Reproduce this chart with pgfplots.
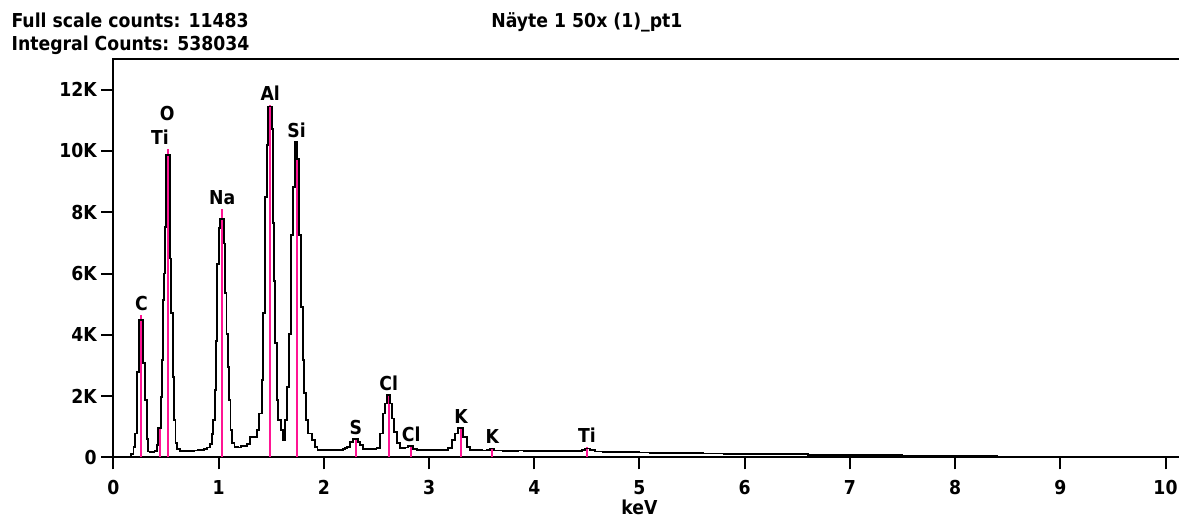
\documentclass[border=0pt]{standalone}
\usepackage{fontspec}
\IfFontExistsTF{DejaVu Sans Condensed}{\setmainfont{DejaVu Sans Condensed}[BoldFont={DejaVu Sans Condensed Bold}]}{\setmainfont{DejaVu Sans}}
\usepackage{pgfplots}
\pgfplotsset{compat=1.18}
\definecolor{pk}{RGB}{255,20,147}
\newcommand\lf{\fontsize{14.4pt}{16pt}\selectfont\bfseries}
\pgfplotstableread{
x y
0 0
0.15 20
0.17 120
0.19 330
0.204 780
0.22 2780
0.245 4470
0.283 3070
0.300 1870
0.316 600
0.331 190
0.35 170
0.37 180
0.39 200
0.41 400
0.426 950
0.449 1980
0.464 3170
0.474 5130
0.483 6000
0.490 7520
0.499 9860
0.537 6490
0.547 4700
0.563 2630
0.578 1220
0.590 460
0.605 260
0.63 210
0.66 200
0.70 215
0.73 205
0.77 225
0.80 230
0.83 250
0.86 270
0.89 320
0.917 450
0.935 750
0.949 1220
0.962 2200
0.975 3800
0.987 6300
1.000 7500
1.012 7780
1.050 6980
1.063 5360
1.075 4040
1.087 2960
1.100 1870
1.112 890
1.128 460
1.15 340
1.18 320
1.21 360
1.24 380
1.27 450
1.298 670
1.361 890
1.386 1430
1.409 2520
1.424 4700
1.440 8500
1.456 10190
1.472 11450
1.504 10730
1.513 7640
1.526 5770
1.538 3730
1.551 1870
1.567 1220
1.589 890
1.614 560
1.630 1220
1.652 2300
1.671 4040
1.687 7250
1.703 8830
1.725 10300
1.741 9750
1.766 7250
1.779 4910
1.798 3170
1.811 2090
1.830 1220
1.852 780
1.884 560
1.915 350
1.94 250
1.98 240
2.02 250
2.06 235
2.10 245
2.14 240
2.18 260
2.200 300
2.217 350
2.248 510
2.280 600
2.327 500
2.343 400
2.375 260
2.42 280
2.46 270
2.50 300
2.533 780
2.565 1430
2.581 1760
2.597 2030
2.628 1760
2.644 1270
2.666 840
2.692 460
2.723 300
2.770 320
2.802 380
2.850 260
2.882 240
2.95 235
3.00 240
3.05 230
3.10 240
3.15 235
3.183 300
3.215 560
3.246 780
3.278 950
3.319 670
3.357 350
3.389 240
3.45 230
3.50 225
3.55 235
3.58 290
3.62 225
3.70 220
3.78 210
3.85 225
3.90 205
3.95 215
4.00 205
4.05 220
4.10 200
4.15 210
4.20 205
4.25 215
4.30 210
4.35 200
4.40 215
4.45 250
4.48 290
4.53 240
4.58 190
4.65 180
4.72 175
4.80 170
4.90 165
5.00 160
5.10 150
5.20 140
5.30 135
5.45 130
5.60 125
5.80 115
6.00 110
6.30 100
6.60 90
6.90 80
7.20 70
7.50 60
7.80 50
8.10 40
8.40 25
8.80 15
9.40 10
10.2 10
}\spec
\pgfplotstableread{
x y
0.266 4640
0.445 950
0.522 10080
1.034 8090
1.490 11490
1.741 10300
2.305 600
2.616 2050
2.830 380
3.303 970
3.600 290
4.500 330
}\lines
\begin{document}
\begin{tikzpicture}
\begin{axis}[
  at={(0pt,0pt)}, anchor=south west, scale only axis,
  width=804.75pt, height=298.7pt,
  xmin=0, xmax=10.2, ymin=0, ymax=13000,
  axis line style={line width=1.5pt, black},
  every tick/.style={line width=1.5pt, black},
  tick align=outside,
  major tick length=9pt,
  xtick={0,1,...,10}, xticklabels={0,1,2,3,4,5,6,7,8,9,10},
  ytick={0,2000,4000,6000,8000,10000,12000}, yticklabels={0,2K,4K,6K,8K,10K,12K},
  ticklabel style={font=\lf},
  xticklabel style={yshift=-5pt},
  xtick pos=lower, ytick pos=left,
  scaled y ticks=false,
  minor tick num=0,
]
\addplot[ycomb, pk, line width=1.5pt, mark=none] table[x=x,y=y] {\lines};
\addplot[const plot, black, line width=1.4pt, mark=none] table[x=x,y=y] {\spec};
\node[anchor=base, font=\lf, yshift=3.4pt] at (axis cs:0.266,4640) {C};
\node[anchor=base, font=\lf] at (axis cs:0.442,10215) {Ti};
\node[anchor=base, font=\lf] at (axis cs:0.512,10990) {O};
\node[anchor=base, font=\lf, yshift=3.4pt] at (axis cs:1.034,8090) {Na};
\node[anchor=base, font=\lf, yshift=3.4pt] at (axis cs:1.490,11490) {Al};
\node[anchor=base, font=\lf, yshift=3.4pt] at (axis cs:1.741,10300) {Si};
\node[anchor=base, font=\lf, yshift=3.4pt] at (axis cs:2.305,600) {S};
\node[anchor=base, font=\lf, yshift=3.4pt] at (axis cs:2.616,2050) {Cl};
\node[anchor=base, font=\lf, yshift=3.4pt] at (axis cs:2.830,380) {Cl};
\node[anchor=base, font=\lf, yshift=3.4pt] at (axis cs:3.303,970) {K};
\node[anchor=base, font=\lf, yshift=3.4pt] at (axis cs:3.600,290) {K};
\node[anchor=base, font=\lf, yshift=3.4pt] at (axis cs:4.500,330) {Ti};
\end{axis}
\node[anchor=base, font=\lf, inner sep=0pt] at (394.5pt,-42.5pt) {keV};
\node[anchor=base west, font=\lf, inner sep=0pt] at (-76.6pt,322.5pt) {Full scale counts: 11483};
\node[anchor=base west, font=\lf, inner sep=0pt] at (-76.6pt,305.2pt) {Integral Counts: 538034};
\node[anchor=base, font=\lf, inner sep=0pt] at (355.1pt,322.5pt) {Näyte 1 50x (1)\_pt1};
\pgfresetboundingbox
\useasboundingbox (-85.1pt,-44.8pt) rectangle (799.1pt,343.0pt);
\end{tikzpicture}
\end{document}
